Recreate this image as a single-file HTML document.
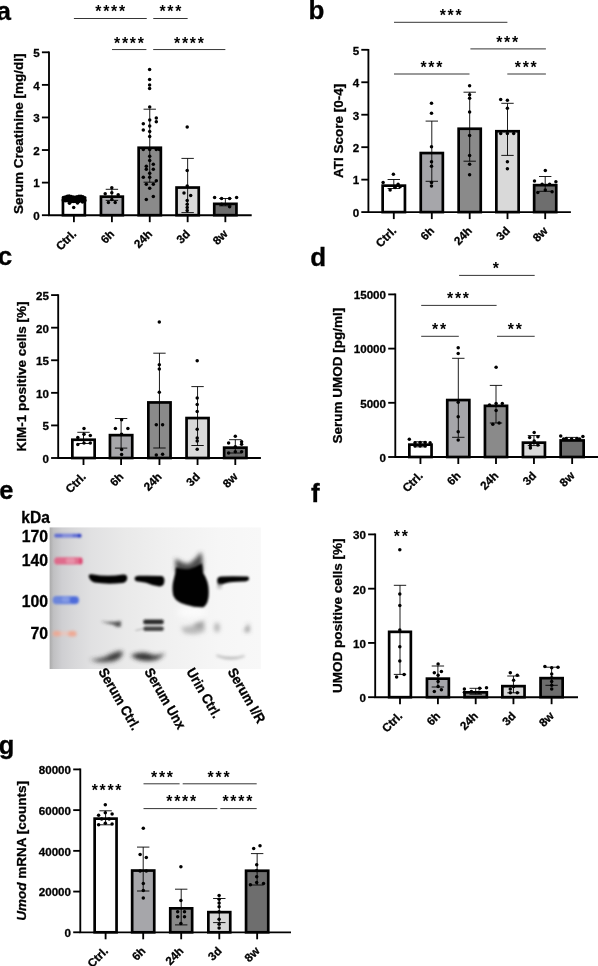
<!DOCTYPE html>
<html lang="en">
<head>
<meta charset="utf-8">
<title>Figure</title>
<style>
html,body{margin:0;padding:0;background:#fff;}
svg{display:block;}
text.st{stroke:none;}
text{font-family:'Liberation Sans', sans-serif;fill:#000;stroke:#000;stroke-width:0.3px;}
</style>
</head>
<body>
<svg width="598" height="966" viewBox="0 0 598 966">
<rect width="598" height="966" fill="#fff"/>
<g opacity="0.999">
<text x="-3.4" y="19.8" font-size="26" font-weight="bold">a</text>
<rect x="62.95" y="199.65" width="21.90" height="15.55" fill="#ffffff" stroke="#000" stroke-width="2.7"/>
<rect x="100.95" y="196.65" width="21.90" height="18.55" fill="#a6a6aa" stroke="#000" stroke-width="2.7"/>
<rect x="138.65" y="147.75" width="22.20" height="67.45" fill="#8a8a8a" stroke="#000" stroke-width="2.7"/>
<rect x="176.55" y="187.55" width="22.20" height="27.65" fill="#d9d9d9" stroke="#000" stroke-width="2.7"/>
<rect x="214.25" y="203.85" width="22.20" height="11.35" fill="#6e6e6e" stroke="#000" stroke-width="2.7"/>
<path d="M49.00 51.38V216.12M48.08 215.20H251.70" stroke="#000" stroke-width="1.85" fill="none"/>
<path d="M41.90 215.20H49.00" stroke="#000" stroke-width="1.85"/>
<text x="39.70" y="220.05" text-anchor="end" font-size="11.6" font-weight="bold">0</text>
<path d="M41.90 182.62H49.00" stroke="#000" stroke-width="1.85"/>
<text x="39.70" y="187.47" text-anchor="end" font-size="11.6" font-weight="bold">1</text>
<path d="M41.90 150.04H49.00" stroke="#000" stroke-width="1.85"/>
<text x="39.70" y="154.89" text-anchor="end" font-size="11.6" font-weight="bold">2</text>
<path d="M41.90 117.46H49.00" stroke="#000" stroke-width="1.85"/>
<text x="39.70" y="122.31" text-anchor="end" font-size="11.6" font-weight="bold">3</text>
<path d="M41.90 84.88H49.00" stroke="#000" stroke-width="1.85"/>
<text x="39.70" y="89.73" text-anchor="end" font-size="11.6" font-weight="bold">4</text>
<path d="M41.90 52.30H49.00" stroke="#000" stroke-width="1.85"/>
<text x="39.70" y="57.15" text-anchor="end" font-size="11.6" font-weight="bold">5</text>
<path d="M73.90 215.20V222.20" stroke="#000" stroke-width="1.85"/>
<text transform="translate(74.10 231.70) rotate(-45)" text-anchor="end" font-size="11.6" font-weight="bold" y="4.15">Ctrl.</text>
<path d="M111.90 215.20V222.20" stroke="#000" stroke-width="1.85"/>
<text transform="translate(112.10 231.70) rotate(-45)" text-anchor="end" font-size="11.6" font-weight="bold" y="4.15">6h</text>
<path d="M149.75 215.20V222.20" stroke="#000" stroke-width="1.85"/>
<text transform="translate(149.95 231.70) rotate(-45)" text-anchor="end" font-size="11.6" font-weight="bold" y="4.15">24h</text>
<path d="M187.65 215.20V222.20" stroke="#000" stroke-width="1.85"/>
<text transform="translate(187.85 231.70) rotate(-45)" text-anchor="end" font-size="11.6" font-weight="bold" y="4.15">3d</text>
<path d="M225.35 215.20V222.20" stroke="#000" stroke-width="1.85"/>
<text transform="translate(225.55 231.70) rotate(-45)" text-anchor="end" font-size="11.6" font-weight="bold" y="4.15">8w</text>
<path d="M73.90 197.60V200.20M67.70 197.60H80.10M67.70 200.20H80.10" stroke="#000" stroke-width="0.9" fill="none"/>
<path d="M111.90 189.30V200.40M105.70 189.30H118.10M105.70 200.40H118.10" stroke="#000" stroke-width="0.9" fill="none"/>
<path d="M149.75 109.20V182.20M143.55 109.20H155.95M143.55 182.20H155.95" stroke="#000" stroke-width="0.9" fill="none"/>
<path d="M187.65 158.40V212.60M181.45 158.40H193.85M181.45 212.60H193.85" stroke="#000" stroke-width="0.9" fill="none"/>
<path d="M225.35 198.50V205.80M219.15 198.50H231.55M219.15 205.80H231.55" stroke="#000" stroke-width="0.9" fill="none"/>
<g fill="#000"><circle cx="63.4" cy="197.6" r="1.75"/><circle cx="63.4" cy="199.8" r="1.75"/><circle cx="63.4" cy="200.8" r="1.75"/><circle cx="65.3" cy="197.0" r="1.75"/><circle cx="65.3" cy="199.2" r="1.75"/><circle cx="65.3" cy="200.8" r="1.75"/><circle cx="67.3" cy="196.3" r="1.75"/><circle cx="67.3" cy="198.5" r="1.75"/><circle cx="67.3" cy="200.8" r="1.75"/><circle cx="69.2" cy="196.0" r="1.75"/><circle cx="69.2" cy="198.2" r="1.75"/><circle cx="69.2" cy="200.8" r="1.75"/><circle cx="71.2" cy="196.6" r="1.75"/><circle cx="71.2" cy="198.8" r="1.75"/><circle cx="71.2" cy="201.4" r="1.75"/><circle cx="73.2" cy="197.0" r="1.75"/><circle cx="73.2" cy="199.2" r="1.75"/><circle cx="73.2" cy="201.4" r="1.75"/><circle cx="75.1" cy="197.2" r="1.75"/><circle cx="75.1" cy="199.4" r="1.75"/><circle cx="75.1" cy="201.4" r="1.75"/><circle cx="77.0" cy="196.8" r="1.75"/><circle cx="77.0" cy="199.0" r="1.75"/><circle cx="77.0" cy="201.4" r="1.75"/><circle cx="79.0" cy="196.2" r="1.75"/><circle cx="79.0" cy="198.4" r="1.75"/><circle cx="79.0" cy="201.4" r="1.75"/><circle cx="81.0" cy="196.2" r="1.75"/><circle cx="81.0" cy="198.4" r="1.75"/><circle cx="81.0" cy="200.8" r="1.75"/><circle cx="82.9" cy="196.8" r="1.75"/><circle cx="82.9" cy="199.0" r="1.75"/><circle cx="82.9" cy="200.8" r="1.75"/><circle cx="84.8" cy="197.8" r="1.75"/><circle cx="84.8" cy="200.0" r="1.75"/><circle cx="84.8" cy="200.8" r="1.75"/><circle cx="73.7" cy="207.4" r="1.75"/><circle cx="69.5" cy="203.2" r="1.75"/><circle cx="77.5" cy="203.0" r="1.75"/><circle cx="82.5" cy="202.0" r="1.75"/><circle cx="111.8" cy="187.7" r="1.75"/><circle cx="105.2" cy="193.8" r="1.75"/><circle cx="118.2" cy="194.8" r="1.75"/><circle cx="111.8" cy="192.7" r="1.75"/><circle cx="108.4" cy="202.4" r="1.75"/><circle cx="115.2" cy="202.4" r="1.75"/><circle cx="111.8" cy="199.4" r="1.75"/><circle cx="149.7" cy="107.1" r="1.75"/><circle cx="149.7" cy="120.1" r="1.75"/><circle cx="156.3" cy="118.1" r="1.75"/><circle cx="156.3" cy="121.7" r="1.75"/><circle cx="143.3" cy="123.7" r="1.75"/><circle cx="149.7" cy="126.1" r="1.75"/><circle cx="143.3" cy="130.1" r="1.75"/><circle cx="149.7" cy="131.5" r="1.75"/><circle cx="149.7" cy="136.6" r="1.75"/><circle cx="143.3" cy="149.6" r="1.75"/><circle cx="149.7" cy="149.6" r="1.75"/><circle cx="156.3" cy="149.6" r="1.75"/><circle cx="159.4" cy="149.6" r="1.75"/><circle cx="149.7" cy="156.2" r="1.75"/><circle cx="149.7" cy="160.6" r="1.75"/><circle cx="146.3" cy="166.3" r="1.75"/><circle cx="153.3" cy="164.3" r="1.75"/><circle cx="146.3" cy="169.3" r="1.75"/><circle cx="153.3" cy="169.3" r="1.75"/><circle cx="149.7" cy="173.3" r="1.75"/><circle cx="143.3" cy="177.3" r="1.75"/><circle cx="149.7" cy="177.3" r="1.75"/><circle cx="156.3" cy="180.7" r="1.75"/><circle cx="146.3" cy="184.3" r="1.75"/><circle cx="153.3" cy="184.3" r="1.75"/><circle cx="149.7" cy="188.3" r="1.75"/><circle cx="153.3" cy="196.4" r="1.75"/><circle cx="146.3" cy="199.4" r="1.75"/><circle cx="149.6" cy="69.6" r="1.75"/><circle cx="149.6" cy="79.4" r="1.75"/><circle cx="149.6" cy="85.1" r="1.75"/><circle cx="149.6" cy="88.4" r="1.75"/><circle cx="187.2" cy="127.0" r="1.75"/><circle cx="187.2" cy="170.4" r="1.75"/><circle cx="187.2" cy="186.0" r="1.75"/><circle cx="184.0" cy="193.0" r="1.75"/><circle cx="190.7" cy="195.5" r="1.75"/><circle cx="187.2" cy="200.5" r="1.75"/><circle cx="187.2" cy="204.3" r="1.75"/><circle cx="187.2" cy="207.5" r="1.75"/><circle cx="187.2" cy="210.6" r="1.75"/><circle cx="214.6" cy="197.5" r="1.75"/><circle cx="221.6" cy="198.5" r="1.75"/><circle cx="229.6" cy="198.5" r="1.75"/><circle cx="236.6" cy="197.5" r="1.75"/><circle cx="221.6" cy="204.3" r="1.75"/><circle cx="229.6" cy="206.8" r="1.75"/></g>
<text transform="translate(18.40 133.75) rotate(-90)" text-anchor="middle" font-size="13.5" font-weight="bold" y="4.83">Serum Creatinine [mg/dl]</text>
<path d="M73.90 18.50H146.75" stroke="#2a2a2a" stroke-width="0.95"/><text class="st" x="111.08" y="17.41" text-anchor="middle" font-size="15.8" font-weight="bold" letter-spacing="1.75">****</text>
<path d="M153.25 18.50H187.65" stroke="#2a2a2a" stroke-width="0.95"/><text class="st" x="171.32" y="17.41" text-anchor="middle" font-size="15.8" font-weight="bold" letter-spacing="1.75">***</text>
<path d="M112.00 49.55H146.40" stroke="#2a2a2a" stroke-width="0.95"/><text class="st" x="129.88" y="48.86" text-anchor="middle" font-size="15.8" font-weight="bold" letter-spacing="1.75">****</text>
<path d="M153.20 49.55H225.35" stroke="#2a2a2a" stroke-width="0.95"/><text class="st" x="189.88" y="48.86" text-anchor="middle" font-size="15.8" font-weight="bold" letter-spacing="1.75">****</text>
<text x="308.6" y="19.4" font-size="26" font-weight="bold">b</text>
<rect x="382.65" y="185.65" width="22.30" height="26.45" fill="#ffffff" stroke="#000" stroke-width="2.7"/>
<rect x="420.75" y="153.05" width="22.10" height="59.05" fill="#a6a6aa" stroke="#000" stroke-width="2.7"/>
<rect x="458.65" y="128.75" width="22.10" height="83.35" fill="#8a8a8a" stroke="#000" stroke-width="2.7"/>
<rect x="496.35" y="131.25" width="22.30" height="80.85" fill="#d9d9d9" stroke="#000" stroke-width="2.7"/>
<rect x="534.15" y="185.15" width="22.10" height="26.95" fill="#6e6e6e" stroke="#000" stroke-width="2.7"/>
<path d="M368.40 48.88V213.03M367.47 212.10H570.90" stroke="#000" stroke-width="1.85" fill="none"/>
<path d="M361.30 212.10H368.40" stroke="#000" stroke-width="1.85"/>
<text x="359.10" y="216.95" text-anchor="end" font-size="11.6" font-weight="bold">0</text>
<path d="M361.30 179.64H368.40" stroke="#000" stroke-width="1.85"/>
<text x="359.10" y="184.49" text-anchor="end" font-size="11.6" font-weight="bold">1</text>
<path d="M361.30 147.18H368.40" stroke="#000" stroke-width="1.85"/>
<text x="359.10" y="152.03" text-anchor="end" font-size="11.6" font-weight="bold">2</text>
<path d="M361.30 114.72H368.40" stroke="#000" stroke-width="1.85"/>
<text x="359.10" y="119.57" text-anchor="end" font-size="11.6" font-weight="bold">3</text>
<path d="M361.30 82.26H368.40" stroke="#000" stroke-width="1.85"/>
<text x="359.10" y="87.11" text-anchor="end" font-size="11.6" font-weight="bold">4</text>
<path d="M361.30 49.80H368.40" stroke="#000" stroke-width="1.85"/>
<text x="359.10" y="54.65" text-anchor="end" font-size="11.6" font-weight="bold">5</text>
<path d="M393.80 212.10V219.10" stroke="#000" stroke-width="1.85"/>
<text transform="translate(394.00 228.60) rotate(-45)" text-anchor="end" font-size="11.6" font-weight="bold" y="4.15">Ctrl.</text>
<path d="M431.80 212.10V219.10" stroke="#000" stroke-width="1.85"/>
<text transform="translate(432.00 228.60) rotate(-45)" text-anchor="end" font-size="11.6" font-weight="bold" y="4.15">6h</text>
<path d="M469.70 212.10V219.10" stroke="#000" stroke-width="1.85"/>
<text transform="translate(469.90 228.60) rotate(-45)" text-anchor="end" font-size="11.6" font-weight="bold" y="4.15">24h</text>
<path d="M507.50 212.10V219.10" stroke="#000" stroke-width="1.85"/>
<text transform="translate(507.70 228.60) rotate(-45)" text-anchor="end" font-size="11.6" font-weight="bold" y="4.15">3d</text>
<path d="M545.20 212.10V219.10" stroke="#000" stroke-width="1.85"/>
<text transform="translate(545.40 228.60) rotate(-45)" text-anchor="end" font-size="11.6" font-weight="bold" y="4.15">8w</text>
<path d="M393.80 179.50V188.50M387.60 179.50H400.00M387.60 188.50H400.00" stroke="#000" stroke-width="0.9" fill="none"/>
<path d="M431.80 121.10V181.30M425.60 121.10H438.00M425.60 181.30H438.00" stroke="#000" stroke-width="0.9" fill="none"/>
<path d="M469.70 92.20V161.20M463.50 92.20H475.90M463.50 161.20H475.90" stroke="#000" stroke-width="0.9" fill="none"/>
<path d="M507.50 103.30V155.40M501.30 103.30H513.70M501.30 155.40H513.70" stroke="#000" stroke-width="0.9" fill="none"/>
<path d="M545.20 176.50V191.30M539.00 176.50H551.40M539.00 191.30H551.40" stroke="#000" stroke-width="0.9" fill="none"/>
<g fill="#000"><circle cx="393.4" cy="174.3" r="1.75"/><circle cx="383.1" cy="182.5" r="1.75"/><circle cx="398.1" cy="184.3" r="1.75"/><circle cx="390.1" cy="190.1" r="1.75"/><circle cx="395.1" cy="187.5" r="1.75"/><circle cx="400.1" cy="186.8" r="1.75"/><circle cx="431.5" cy="103.3" r="1.75"/><circle cx="431.5" cy="113.3" r="1.75"/><circle cx="431.5" cy="146.7" r="1.75"/><circle cx="431.5" cy="161.7" r="1.75"/><circle cx="431.5" cy="166.2" r="1.75"/><circle cx="431.5" cy="182.5" r="1.75"/><circle cx="431.5" cy="186.0" r="1.75"/><circle cx="469.6" cy="85.7" r="1.75"/><circle cx="469.6" cy="94.7" r="1.75"/><circle cx="469.6" cy="98.3" r="1.75"/><circle cx="469.6" cy="112.0" r="1.75"/><circle cx="469.6" cy="135.4" r="1.75"/><circle cx="469.6" cy="155.4" r="1.75"/><circle cx="469.6" cy="164.2" r="1.75"/><circle cx="469.6" cy="174.8" r="1.75"/><circle cx="500.7" cy="99.5" r="1.75"/><circle cx="507.4" cy="100.3" r="1.75"/><circle cx="507.4" cy="108.3" r="1.75"/><circle cx="500.7" cy="133.4" r="1.75"/><circle cx="507.4" cy="133.4" r="1.75"/><circle cx="513.7" cy="133.4" r="1.75"/><circle cx="507.4" cy="161.7" r="1.75"/><circle cx="507.4" cy="168.7" r="1.75"/><circle cx="545.3" cy="170.5" r="1.75"/><circle cx="534.5" cy="181.0" r="1.75"/><circle cx="555.9" cy="181.8" r="1.75"/><circle cx="542.1" cy="184.3" r="1.75"/><circle cx="549.6" cy="184.3" r="1.75"/><circle cx="545.3" cy="190.1" r="1.75"/><circle cx="537.8" cy="192.6" r="1.75"/><circle cx="552.1" cy="191.8" r="1.75"/></g>
<text transform="translate(337.90 130.95) rotate(-90)" text-anchor="middle" font-size="13.5" font-weight="bold" y="4.83">ATI Score [0-4]</text>
<path d="M394.00 22.30H507.40" stroke="#2a2a2a" stroke-width="0.95"/><text class="st" x="451.57" y="21.31" text-anchor="middle" font-size="15.8" font-weight="bold" letter-spacing="1.75">***</text>
<path d="M470.40 48.90H545.90" stroke="#2a2a2a" stroke-width="0.95"/><text class="st" x="507.98" y="48.11" text-anchor="middle" font-size="15.8" font-weight="bold" letter-spacing="1.75">***</text>
<path d="M394.00 74.00H469.50" stroke="#2a2a2a" stroke-width="0.95"/><text class="st" x="432.27" y="73.21" text-anchor="middle" font-size="15.8" font-weight="bold" letter-spacing="1.75">***</text>
<path d="M507.30 74.00H545.90" stroke="#2a2a2a" stroke-width="0.95"/><text class="st" x="526.67" y="73.21" text-anchor="middle" font-size="15.8" font-weight="bold" letter-spacing="1.75">***</text>
<text x="-2.3" y="264.7" font-size="26" font-weight="bold">c</text>
<rect x="72.35" y="439.75" width="22.30" height="18.25" fill="#ffffff" stroke="#000" stroke-width="2.7"/>
<rect x="109.95" y="435.15" width="22.30" height="22.85" fill="#a6a6aa" stroke="#000" stroke-width="2.7"/>
<rect x="148.35" y="402.45" width="22.20" height="55.55" fill="#8a8a8a" stroke="#000" stroke-width="2.7"/>
<rect x="186.55" y="418.05" width="22.00" height="39.95" fill="#d9d9d9" stroke="#000" stroke-width="2.7"/>
<rect x="224.15" y="447.65" width="22.30" height="10.35" fill="#6e6e6e" stroke="#000" stroke-width="2.7"/>
<path d="M58.20 294.18V458.93M57.28 458.00H260.90" stroke="#000" stroke-width="1.85" fill="none"/>
<path d="M51.10 458.00H58.20" stroke="#000" stroke-width="1.85"/>
<text x="48.90" y="462.85" text-anchor="end" font-size="11.6" font-weight="bold">0</text>
<path d="M51.10 425.42H58.20" stroke="#000" stroke-width="1.85"/>
<text x="48.90" y="430.27" text-anchor="end" font-size="11.6" font-weight="bold">5</text>
<path d="M51.10 392.84H58.20" stroke="#000" stroke-width="1.85"/>
<text x="48.90" y="397.69" text-anchor="end" font-size="11.6" font-weight="bold">10</text>
<path d="M51.10 360.26H58.20" stroke="#000" stroke-width="1.85"/>
<text x="48.90" y="365.11" text-anchor="end" font-size="11.6" font-weight="bold">15</text>
<path d="M51.10 327.68H58.20" stroke="#000" stroke-width="1.85"/>
<text x="48.90" y="332.53" text-anchor="end" font-size="11.6" font-weight="bold">20</text>
<path d="M51.10 295.10H58.20" stroke="#000" stroke-width="1.85"/>
<text x="48.90" y="299.95" text-anchor="end" font-size="11.6" font-weight="bold">25</text>
<path d="M83.50 458.00V465.00" stroke="#000" stroke-width="1.85"/>
<text transform="translate(83.70 474.50) rotate(-45)" text-anchor="end" font-size="11.6" font-weight="bold" y="4.15">Ctrl.</text>
<path d="M121.10 458.00V465.00" stroke="#000" stroke-width="1.85"/>
<text transform="translate(121.30 474.50) rotate(-45)" text-anchor="end" font-size="11.6" font-weight="bold" y="4.15">6h</text>
<path d="M159.45 458.00V465.00" stroke="#000" stroke-width="1.85"/>
<text transform="translate(159.65 474.50) rotate(-45)" text-anchor="end" font-size="11.6" font-weight="bold" y="4.15">24h</text>
<path d="M197.55 458.00V465.00" stroke="#000" stroke-width="1.85"/>
<text transform="translate(197.75 474.50) rotate(-45)" text-anchor="end" font-size="11.6" font-weight="bold" y="4.15">3d</text>
<path d="M235.30 458.00V465.00" stroke="#000" stroke-width="1.85"/>
<text transform="translate(235.50 474.50) rotate(-45)" text-anchor="end" font-size="11.6" font-weight="bold" y="4.15">8w</text>
<path d="M83.50 432.30V443.50M77.30 432.30H89.70M77.30 443.50H89.70" stroke="#000" stroke-width="0.9" fill="none"/>
<path d="M121.10 418.50V448.10M114.90 418.50H127.30M114.90 448.10H127.30" stroke="#000" stroke-width="0.9" fill="none"/>
<path d="M159.45 353.20V448.00M153.25 353.20H165.65M153.25 448.00H165.65" stroke="#000" stroke-width="0.9" fill="none"/>
<path d="M197.55 386.60V445.50M191.35 386.60H203.75M191.35 445.50H203.75" stroke="#000" stroke-width="0.9" fill="none"/>
<path d="M235.30 439.70V453.00M229.10 439.70H241.50M229.10 453.00H241.50" stroke="#000" stroke-width="0.9" fill="none"/>
<g fill="#000"><circle cx="84.0" cy="428.6" r="1.75"/><circle cx="77.8" cy="437.6" r="1.75"/><circle cx="90.3" cy="435.6" r="1.75"/><circle cx="84.0" cy="434.3" r="1.75"/><circle cx="77.8" cy="444.4" r="1.75"/><circle cx="84.0" cy="443.1" r="1.75"/><circle cx="90.3" cy="443.1" r="1.75"/><circle cx="121.6" cy="419.8" r="1.75"/><circle cx="115.4" cy="428.6" r="1.75"/><circle cx="127.9" cy="428.6" r="1.75"/><circle cx="121.6" cy="434.3" r="1.75"/><circle cx="121.6" cy="449.4" r="1.75"/><circle cx="121.6" cy="454.4" r="1.75"/><circle cx="159.3" cy="321.9" r="1.75"/><circle cx="159.3" cy="364.7" r="1.75"/><circle cx="159.3" cy="369.0" r="1.75"/><circle cx="159.3" cy="392.3" r="1.75"/><circle cx="156.3" cy="424.7" r="1.75"/><circle cx="162.6" cy="424.7" r="1.75"/><circle cx="156.3" cy="455.0" r="1.75"/><circle cx="162.6" cy="454.3" r="1.75"/><circle cx="197.2" cy="360.7" r="1.75"/><circle cx="197.2" cy="397.9" r="1.75"/><circle cx="197.2" cy="404.6" r="1.75"/><circle cx="197.2" cy="411.6" r="1.75"/><circle cx="197.2" cy="429.2" r="1.75"/><circle cx="197.2" cy="438.0" r="1.75"/><circle cx="197.2" cy="441.0" r="1.75"/><circle cx="197.2" cy="449.3" r="1.75"/><circle cx="235.3" cy="436.2" r="1.75"/><circle cx="228.6" cy="443.0" r="1.75"/><circle cx="241.6" cy="441.7" r="1.75"/><circle cx="235.3" cy="446.8" r="1.75"/><circle cx="241.6" cy="444.3" r="1.75"/><circle cx="228.6" cy="453.0" r="1.75"/><circle cx="235.3" cy="451.8" r="1.75"/><circle cx="241.6" cy="451.8" r="1.75"/></g>
<text transform="translate(20.90 376.55) rotate(-90)" text-anchor="middle" font-size="13.5" font-weight="bold" y="4.83">KIM-1 positive cells [%]</text>
<text x="310.2" y="266.1" font-size="26" font-weight="bold">d</text>
<rect x="409.35" y="444.65" width="22.20" height="12.35" fill="#ffffff" stroke="#000" stroke-width="2.7"/>
<rect x="447.25" y="400.05" width="22.10" height="56.95" fill="#a6a6aa" stroke="#000" stroke-width="2.7"/>
<rect x="484.95" y="405.85" width="22.10" height="51.15" fill="#8a8a8a" stroke="#000" stroke-width="2.7"/>
<rect x="522.95" y="442.65" width="22.00" height="14.35" fill="#d9d9d9" stroke="#000" stroke-width="2.7"/>
<rect x="560.65" y="440.45" width="23.00" height="16.55" fill="#6e6e6e" stroke="#000" stroke-width="2.7"/>
<path d="M395.30 293.47V457.93M394.38 457.00H598.00" stroke="#000" stroke-width="1.85" fill="none"/>
<path d="M388.20 457.00H395.30" stroke="#000" stroke-width="1.85"/>
<text x="386.00" y="461.85" text-anchor="end" font-size="11.6" font-weight="bold">0</text>
<path d="M388.20 402.80H395.30" stroke="#000" stroke-width="1.85"/>
<text x="386.00" y="407.65" text-anchor="end" font-size="11.6" font-weight="bold">5000</text>
<path d="M388.20 348.60H395.30" stroke="#000" stroke-width="1.85"/>
<text x="386.00" y="353.45" text-anchor="end" font-size="11.6" font-weight="bold">10000</text>
<path d="M388.20 294.40H395.30" stroke="#000" stroke-width="1.85"/>
<text x="386.00" y="299.25" text-anchor="end" font-size="11.6" font-weight="bold">15000</text>
<path d="M420.45 457.00V464.00" stroke="#000" stroke-width="1.85"/>
<text transform="translate(420.65 473.50) rotate(-45)" text-anchor="end" font-size="11.6" font-weight="bold" y="4.15">Ctrl.</text>
<path d="M458.30 457.00V464.00" stroke="#000" stroke-width="1.85"/>
<text transform="translate(458.50 473.50) rotate(-45)" text-anchor="end" font-size="11.6" font-weight="bold" y="4.15">6h</text>
<path d="M496.00 457.00V464.00" stroke="#000" stroke-width="1.85"/>
<text transform="translate(496.20 473.50) rotate(-45)" text-anchor="end" font-size="11.6" font-weight="bold" y="4.15">24h</text>
<path d="M533.95 457.00V464.00" stroke="#000" stroke-width="1.85"/>
<text transform="translate(534.15 473.50) rotate(-45)" text-anchor="end" font-size="11.6" font-weight="bold" y="4.15">3d</text>
<path d="M572.15 457.00V464.00" stroke="#000" stroke-width="1.85"/>
<text transform="translate(572.35 473.50) rotate(-45)" text-anchor="end" font-size="11.6" font-weight="bold" y="4.15">8w</text>
<path d="M420.45 441.80V446.80M414.25 441.80H426.65M414.25 446.80H426.65" stroke="#000" stroke-width="0.9" fill="none"/>
<path d="M458.30 358.30V437.30M452.10 358.30H464.50M452.10 437.30H464.50" stroke="#000" stroke-width="0.9" fill="none"/>
<path d="M496.00 385.40V423.00M489.80 385.40H502.20M489.80 423.00H502.20" stroke="#000" stroke-width="0.9" fill="none"/>
<path d="M533.95 435.60V445.60M527.75 435.60H540.15M527.75 445.60H540.15" stroke="#000" stroke-width="0.9" fill="none"/>
<path d="M572.15 437.40V440.20M565.95 437.40H578.35M565.95 440.20H578.35" stroke="#000" stroke-width="0.9" fill="none"/>
<g fill="#000"><circle cx="409.3" cy="439.3" r="1.75"/><circle cx="415.0" cy="442.8" r="1.75"/><circle cx="420.1" cy="442.6" r="1.75"/><circle cx="425.1" cy="442.6" r="1.75"/><circle cx="430.1" cy="442.8" r="1.75"/><circle cx="415.0" cy="446.1" r="1.75"/><circle cx="420.1" cy="446.1" r="1.75"/><circle cx="425.1" cy="446.1" r="1.75"/><circle cx="458.2" cy="347.8" r="1.75"/><circle cx="458.2" cy="353.6" r="1.75"/><circle cx="458.2" cy="402.2" r="1.75"/><circle cx="458.2" cy="416.8" r="1.75"/><circle cx="458.2" cy="431.8" r="1.75"/><circle cx="458.2" cy="440.1" r="1.75"/><circle cx="496.1" cy="367.3" r="1.75"/><circle cx="489.5" cy="405.0" r="1.75"/><circle cx="496.1" cy="403.5" r="1.75"/><circle cx="502.3" cy="403.5" r="1.75"/><circle cx="492.8" cy="424.3" r="1.75"/><circle cx="499.1" cy="423.0" r="1.75"/><circle cx="496.1" cy="410.5" r="1.75"/><circle cx="534.2" cy="432.6" r="1.75"/><circle cx="529.7" cy="437.6" r="1.75"/><circle cx="537.9" cy="436.8" r="1.75"/><circle cx="534.2" cy="441.1" r="1.75"/><circle cx="530.4" cy="445.6" r="1.75"/><circle cx="537.9" cy="445.1" r="1.75"/><circle cx="530.4" cy="448.1" r="1.75"/><circle cx="560.7" cy="436.0" r="1.75"/><circle cx="582.9" cy="436.5" r="1.75"/><circle cx="566.2" cy="438.5" r="1.75"/><circle cx="571.6" cy="438.9" r="1.75"/><circle cx="576.9" cy="438.5" r="1.75"/><circle cx="563.6" cy="438.9" r="1.75"/><circle cx="579.6" cy="438.9" r="1.75"/></g>
<text transform="translate(337.30 375.70) rotate(-90)" text-anchor="middle" font-size="13.5" font-weight="bold" y="4.83">Serum UMOD [pg/ml]</text>
<path d="M459.10 275.40H534.70" stroke="#2a2a2a" stroke-width="0.95"/><text class="st" x="496.68" y="274.41" text-anchor="middle" font-size="15.8" font-weight="bold" letter-spacing="1.75">*</text>
<path d="M421.20 305.40H496.60" stroke="#2a2a2a" stroke-width="0.95"/><text class="st" x="458.88" y="304.41" text-anchor="middle" font-size="15.8" font-weight="bold" letter-spacing="1.75">***</text>
<path d="M421.20 336.30H458.80" stroke="#2a2a2a" stroke-width="0.95"/><text class="st" x="439.98" y="335.31" text-anchor="middle" font-size="15.8" font-weight="bold" letter-spacing="1.75">**</text>
<path d="M497.00 336.30H534.70" stroke="#2a2a2a" stroke-width="0.95"/><text class="st" x="515.77" y="335.31" text-anchor="middle" font-size="15.8" font-weight="bold" letter-spacing="1.75">**</text>
<text x="311" y="501.8" font-size="26" font-weight="bold">f</text>
<rect x="389.15" y="631.85" width="21.70" height="65.35" fill="#ffffff" stroke="#000" stroke-width="2.7"/>
<rect x="426.95" y="678.65" width="21.90" height="18.55" fill="#a6a6aa" stroke="#000" stroke-width="2.7"/>
<rect x="464.55" y="692.35" width="22.30" height="4.85" fill="#8a8a8a" stroke="#000" stroke-width="2.7"/>
<rect x="502.35" y="686.15" width="22.20" height="11.05" fill="#d9d9d9" stroke="#000" stroke-width="2.7"/>
<rect x="540.55" y="678.15" width="22.10" height="19.05" fill="#6e6e6e" stroke="#000" stroke-width="2.7"/>
<path d="M375.20 533.48V698.12M374.27 697.20H578.00" stroke="#000" stroke-width="1.85" fill="none"/>
<path d="M368.10 697.20H375.20" stroke="#000" stroke-width="1.85"/>
<text x="365.90" y="702.05" text-anchor="end" font-size="11.6" font-weight="bold">0</text>
<path d="M368.10 642.93H375.20" stroke="#000" stroke-width="1.85"/>
<text x="365.90" y="647.79" text-anchor="end" font-size="11.6" font-weight="bold">10</text>
<path d="M368.10 588.67H375.20" stroke="#000" stroke-width="1.85"/>
<text x="365.90" y="593.52" text-anchor="end" font-size="11.6" font-weight="bold">20</text>
<path d="M368.10 534.40H375.20" stroke="#000" stroke-width="1.85"/>
<text x="365.90" y="539.25" text-anchor="end" font-size="11.6" font-weight="bold">30</text>
<path d="M400.00 697.20V704.20" stroke="#000" stroke-width="1.85"/>
<text transform="translate(400.20 713.70) rotate(-45)" text-anchor="end" font-size="11.6" font-weight="bold" y="4.15">Ctrl.</text>
<path d="M437.90 697.20V704.20" stroke="#000" stroke-width="1.85"/>
<text transform="translate(438.10 713.70) rotate(-45)" text-anchor="end" font-size="11.6" font-weight="bold" y="4.15">6h</text>
<path d="M475.70 697.20V704.20" stroke="#000" stroke-width="1.85"/>
<text transform="translate(475.90 713.70) rotate(-45)" text-anchor="end" font-size="11.6" font-weight="bold" y="4.15">24h</text>
<path d="M513.45 697.20V704.20" stroke="#000" stroke-width="1.85"/>
<text transform="translate(513.65 713.70) rotate(-45)" text-anchor="end" font-size="11.6" font-weight="bold" y="4.15">3d</text>
<path d="M551.60 697.20V704.20" stroke="#000" stroke-width="1.85"/>
<text transform="translate(551.80 713.70) rotate(-45)" text-anchor="end" font-size="11.6" font-weight="bold" y="4.15">8w</text>
<path d="M400.00 585.30V674.40M393.80 585.30H406.20M393.80 674.40H406.20" stroke="#000" stroke-width="0.9" fill="none"/>
<path d="M437.90 666.00V687.00M431.70 666.00H444.10M431.70 687.00H444.10" stroke="#000" stroke-width="0.9" fill="none"/>
<path d="M475.70 688.30V694.20M469.50 688.30H481.90M469.50 694.20H481.90" stroke="#000" stroke-width="0.9" fill="none"/>
<path d="M513.45 676.00V692.80M507.25 676.00H519.65M507.25 692.80H519.65" stroke="#000" stroke-width="0.9" fill="none"/>
<path d="M551.60 667.20V685.30M545.40 667.20H557.80M545.40 685.30H557.80" stroke="#000" stroke-width="0.9" fill="none"/>
<g fill="#000"><circle cx="399.8" cy="549.7" r="1.75"/><circle cx="399.8" cy="594.1" r="1.75"/><circle cx="399.8" cy="605.4" r="1.75"/><circle cx="399.8" cy="630.0" r="1.75"/><circle cx="399.8" cy="646.8" r="1.75"/><circle cx="399.8" cy="661.1" r="1.75"/><circle cx="396.6" cy="676.9" r="1.75"/><circle cx="404.1" cy="674.4" r="1.75"/><circle cx="438.1" cy="664.0" r="1.75"/><circle cx="434.3" cy="672.7" r="1.75"/><circle cx="441.4" cy="671.5" r="1.75"/><circle cx="438.1" cy="675.2" r="1.75"/><circle cx="438.1" cy="681.5" r="1.75"/><circle cx="434.3" cy="691.5" r="1.75"/><circle cx="441.4" cy="689.8" r="1.75"/><circle cx="438.1" cy="686.5" r="1.75"/><circle cx="464.4" cy="689.0" r="1.75"/><circle cx="479.7" cy="688.3" r="1.75"/><circle cx="486.5" cy="687.8" r="1.75"/><circle cx="471.4" cy="691.5" r="1.75"/><circle cx="479.0" cy="692.3" r="1.75"/><circle cx="464.4" cy="692.3" r="1.75"/><circle cx="510.3" cy="672.7" r="1.75"/><circle cx="517.3" cy="675.2" r="1.75"/><circle cx="513.6" cy="680.3" r="1.75"/><circle cx="513.6" cy="686.5" r="1.75"/><circle cx="510.3" cy="692.8" r="1.75"/><circle cx="517.3" cy="692.8" r="1.75"/><circle cx="510.3" cy="689.0" r="1.75"/><circle cx="544.9" cy="666.5" r="1.75"/><circle cx="551.7" cy="667.7" r="1.75"/><circle cx="558.0" cy="667.2" r="1.75"/><circle cx="551.7" cy="674.0" r="1.75"/><circle cx="551.7" cy="677.8" r="1.75"/><circle cx="551.7" cy="681.5" r="1.75"/><circle cx="551.7" cy="685.3" r="1.75"/><circle cx="551.7" cy="689.0" r="1.75"/></g>
<text transform="translate(336.80 615.80) rotate(-90)" text-anchor="middle" font-size="13.5" font-weight="bold" y="4.83">UMOD positive cells [%]</text>
<text class="st" x="401.68" y="541.81" text-anchor="middle" font-size="15.8" font-weight="bold" letter-spacing="1.75">**</text>
<text x="-1.2" y="754.2" font-size="25.5" font-weight="bold">g</text>
<rect x="94.65" y="818.65" width="21.90" height="113.65" fill="#ffffff" stroke="#000" stroke-width="2.7"/>
<rect x="132.15" y="870.55" width="22.10" height="61.75" fill="#a6a6aa" stroke="#000" stroke-width="2.7"/>
<rect x="170.25" y="908.35" width="21.90" height="23.95" fill="#8a8a8a" stroke="#000" stroke-width="2.7"/>
<rect x="208.35" y="912.15" width="21.90" height="20.15" fill="#d9d9d9" stroke="#000" stroke-width="2.7"/>
<rect x="246.05" y="870.75" width="22.20" height="61.55" fill="#6e6e6e" stroke="#000" stroke-width="2.7"/>
<path d="M80.30 768.48V933.22M79.38 932.30H291.00" stroke="#000" stroke-width="1.85" fill="none"/>
<path d="M73.20 932.30H80.30" stroke="#000" stroke-width="1.85"/>
<text x="71.00" y="937.15" text-anchor="end" font-size="11.6" font-weight="bold">0</text>
<path d="M73.20 891.57H80.30" stroke="#000" stroke-width="1.85"/>
<text x="71.00" y="896.43" text-anchor="end" font-size="11.6" font-weight="bold">20000</text>
<path d="M73.20 850.85H80.30" stroke="#000" stroke-width="1.85"/>
<text x="71.00" y="855.70" text-anchor="end" font-size="11.6" font-weight="bold">40000</text>
<path d="M73.20 810.12H80.30" stroke="#000" stroke-width="1.85"/>
<text x="71.00" y="814.98" text-anchor="end" font-size="11.6" font-weight="bold">60000</text>
<path d="M73.20 769.40H80.30" stroke="#000" stroke-width="1.85"/>
<text x="71.00" y="774.25" text-anchor="end" font-size="11.6" font-weight="bold">80000</text>
<path d="M105.60 932.30V939.30" stroke="#000" stroke-width="1.85"/>
<text transform="translate(105.80 948.80) rotate(-45)" text-anchor="end" font-size="11.6" font-weight="bold" y="4.15">Ctrl.</text>
<path d="M143.20 932.30V939.30" stroke="#000" stroke-width="1.85"/>
<text transform="translate(143.40 948.80) rotate(-45)" text-anchor="end" font-size="11.6" font-weight="bold" y="4.15">6h</text>
<path d="M181.20 932.30V939.30" stroke="#000" stroke-width="1.85"/>
<text transform="translate(181.40 948.80) rotate(-45)" text-anchor="end" font-size="11.6" font-weight="bold" y="4.15">24h</text>
<path d="M219.30 932.30V939.30" stroke="#000" stroke-width="1.85"/>
<text transform="translate(219.50 948.80) rotate(-45)" text-anchor="end" font-size="11.6" font-weight="bold" y="4.15">3d</text>
<path d="M257.15 932.30V939.30" stroke="#000" stroke-width="1.85"/>
<text transform="translate(257.35 948.80) rotate(-45)" text-anchor="end" font-size="11.6" font-weight="bold" y="4.15">8w</text>
<path d="M105.60 810.80V824.80M99.40 810.80H111.80M99.40 824.80H111.80" stroke="#000" stroke-width="0.9" fill="none"/>
<path d="M143.20 847.10V891.00M137.00 847.10H149.40M137.00 891.00H149.40" stroke="#000" stroke-width="0.9" fill="none"/>
<path d="M181.20 889.20V924.90M175.00 889.20H187.40M175.00 924.90H187.40" stroke="#000" stroke-width="0.9" fill="none"/>
<path d="M219.30 898.50V922.60M213.10 898.50H225.50M213.10 922.60H225.50" stroke="#000" stroke-width="0.9" fill="none"/>
<path d="M257.15 853.60V885.00M250.95 853.60H263.35M250.95 885.00H263.35" stroke="#000" stroke-width="0.9" fill="none"/>
<g fill="#000"><circle cx="105.3" cy="804.7" r="1.75"/><circle cx="98.6" cy="815.3" r="1.75"/><circle cx="112.1" cy="814.0" r="1.75"/><circle cx="105.3" cy="812.8" r="1.75"/><circle cx="101.6" cy="819.0" r="1.75"/><circle cx="109.1" cy="819.0" r="1.75"/><circle cx="98.6" cy="824.8" r="1.75"/><circle cx="105.3" cy="823.3" r="1.75"/><circle cx="112.1" cy="824.1" r="1.75"/><circle cx="143.3" cy="828.3" r="1.75"/><circle cx="140.1" cy="854.6" r="1.75"/><circle cx="146.3" cy="857.4" r="1.75"/><circle cx="140.1" cy="870.9" r="1.75"/><circle cx="146.3" cy="870.9" r="1.75"/><circle cx="143.3" cy="883.5" r="1.75"/><circle cx="143.3" cy="890.5" r="1.75"/><circle cx="143.3" cy="898.0" r="1.75"/><circle cx="180.9" cy="866.7" r="1.75"/><circle cx="180.9" cy="900.5" r="1.75"/><circle cx="177.7" cy="911.8" r="1.75"/><circle cx="184.5" cy="911.8" r="1.75"/><circle cx="177.7" cy="916.8" r="1.75"/><circle cx="184.5" cy="916.8" r="1.75"/><circle cx="180.9" cy="923.6" r="1.75"/><circle cx="219.1" cy="895.5" r="1.75"/><circle cx="219.1" cy="899.3" r="1.75"/><circle cx="219.1" cy="903.0" r="1.75"/><circle cx="219.1" cy="906.8" r="1.75"/><circle cx="219.1" cy="911.8" r="1.75"/><circle cx="219.1" cy="919.3" r="1.75"/><circle cx="219.1" cy="924.3" r="1.75"/><circle cx="219.1" cy="928.1" r="1.75"/><circle cx="253.7" cy="848.4" r="1.75"/><circle cx="260.0" cy="845.8" r="1.75"/><circle cx="256.7" cy="864.7" r="1.75"/><circle cx="256.7" cy="870.4" r="1.75"/><circle cx="256.7" cy="876.7" r="1.75"/><circle cx="250.4" cy="884.7" r="1.75"/><circle cx="256.7" cy="882.5" r="1.75"/><circle cx="263.5" cy="883.5" r="1.75"/></g>
<text transform="translate(21.20 850.85) rotate(-90)" text-anchor="middle" font-size="13.5" font-weight="bold" y="4.83"><tspan font-style="italic">Umod</tspan> mRNA [counts]</text>
<text class="st" x="107.47" y="795.51" text-anchor="middle" font-size="15.8" font-weight="bold" letter-spacing="1.75">****</text>
<path d="M143.50 783.80H179.60" stroke="#2a2a2a" stroke-width="0.95"/><text class="st" x="162.88" y="782.61" text-anchor="middle" font-size="15.8" font-weight="bold" letter-spacing="1.75">***</text>
<path d="M182.70 783.80H256.70" stroke="#2a2a2a" stroke-width="0.95"/><text class="st" x="219.47" y="782.61" text-anchor="middle" font-size="15.8" font-weight="bold" letter-spacing="1.75">***</text>
<path d="M143.50 808.60H217.30" stroke="#2a2a2a" stroke-width="0.95"/><text class="st" x="182.07" y="807.21" text-anchor="middle" font-size="15.8" font-weight="bold" letter-spacing="1.75">****</text>
<path d="M220.30 808.60H256.70" stroke="#2a2a2a" stroke-width="0.95"/><text class="st" x="238.28" y="807.21" text-anchor="middle" font-size="15.8" font-weight="bold" letter-spacing="1.75">****</text>
<defs>
<linearGradient id="blotbg" x1="49.4" x2="260.9" y1="0" y2="0" gradientUnits="userSpaceOnUse">
<stop offset="0" stop-color="#a9a9a9"/>
<stop offset="0.02" stop-color="#c0c0c2"/>
<stop offset="0.06" stop-color="#cfcfd2"/>
<stop offset="0.12" stop-color="#d8d8da"/>
<stop offset="0.2" stop-color="#e1e1e2"/>
<stop offset="0.35" stop-color="#e9e9e9"/>
<stop offset="0.55" stop-color="#f0f0f0"/>
<stop offset="0.8" stop-color="#f6f6f6"/>
<stop offset="1" stop-color="#f8f8f8"/>
</linearGradient>
<linearGradient id="blotshade" x1="0" x2="0" y1="527" y2="669" gradientUnits="userSpaceOnUse">
<stop offset="0" stop-color="#fff" stop-opacity="0.25"/>
<stop offset="0.5" stop-color="#fff" stop-opacity="0"/>
<stop offset="1" stop-color="#000" stop-opacity="0.12"/>
</linearGradient>
<linearGradient id="shadeL" x1="49.4" x2="100" y1="0" y2="0" gradientUnits="userSpaceOnUse">
<stop offset="0" stop-color="#000" stop-opacity="1"/>
<stop offset="1" stop-color="#000" stop-opacity="0"/>
</linearGradient>
<mask id="mL"><rect x="49" y="527" width="60" height="142" fill="url(#shadeL)"/></mask>
<filter id="bl05" x="-20%" y="-50%" width="140%" height="200%"><feGaussianBlur stdDeviation="0.95"/></filter>
<filter id="bl1" x="-20%" y="-50%" width="140%" height="200%"><feGaussianBlur stdDeviation="1"/></filter>
<filter id="bl12" x="-30%" y="-60%" width="160%" height="220%"><feGaussianBlur stdDeviation="1.25"/></filter>
<filter id="bl15" x="-30%" y="-60%" width="160%" height="220%"><feGaussianBlur stdDeviation="1.5"/></filter>
<filter id="bl2" x="-40%" y="-80%" width="180%" height="260%"><feGaussianBlur stdDeviation="2.2"/></filter>
<filter id="bl3" x="-50%" y="-100%" width="200%" height="300%"><feGaussianBlur stdDeviation="3.2"/></filter>
<clipPath id="blotclip"><rect x="49.4" y="527.2" width="211.5" height="141.9"/></clipPath>
</defs>
<g id="blot">
<text x="21.3" y="523.1" font-size="15.6" font-weight="bold">kDa</text>
<text x="48.1" y="541.6" font-size="15.8" font-weight="bold" text-anchor="end">170</text>
<text x="48.1" y="566.4" font-size="15.8" font-weight="bold" text-anchor="end">140</text>
<text x="48.1" y="607.1" font-size="15.8" font-weight="bold" text-anchor="end">100</text>
<text x="48.1" y="639.1" font-size="15.8" font-weight="bold" text-anchor="end">70</text>
<g clip-path="url(#blotclip)">
<rect x="49.4" y="527.2" width="211.5" height="141.9" fill="url(#blotbg)"/>
<g mask="url(#mL)"><rect x="49.4" y="527.2" width="60" height="141.9" fill="url(#blotshade)"/></g>
<!-- ladder -->
<g filter="url(#bl1)">
<rect x="54.2" y="533.7" width="27" height="3.8" rx="1.8" fill="#4a5bd2" opacity="0.85"/>
<rect x="62" y="534.2" width="11" height="2.8" rx="1.4" fill="#8d97e0" opacity="0.8"/>
<rect x="77.5" y="533.8" width="4" height="3.8" rx="1.9" fill="#2c3cc0"/>
<rect x="54.2" y="557.2" width="28" height="7.4" rx="3.4" fill="#e4547c" opacity="0.8"/>
<rect x="66" y="558.2" width="9" height="5" rx="2.5" fill="#eb9ab0" opacity="0.8"/>
<rect x="79" y="557.6" width="3.6" height="7" rx="1.8" fill="#dc3f6a" opacity="0.8"/>
<rect x="52.6" y="596" width="26.6" height="8.2" rx="4" fill="#5675e0" opacity="0.8"/>
<rect x="62" y="596.4" width="7" height="5.5" rx="2.7" fill="#8ea2ea" opacity="0.7"/>
<rect x="70" y="597" width="8" height="6.4" rx="3.2" fill="#4563d8" opacity="0.8"/>
</g>
<g filter="url(#bl15)">
<rect x="52.6" y="631" width="8.5" height="5.2" rx="2.5" fill="#f2a48c" opacity="0.85"/>
<rect x="60" y="631.6" width="9" height="4" rx="2" fill="#f4c1b2" opacity="0.7"/>
<rect x="68" y="631" width="8.5" height="5.4" rx="2.5" fill="#f2a48c" opacity="0.9"/>
</g>
<!-- faint lower smears -->
<g filter="url(#bl2)">
<path d="M89.5 659.5 Q103 659 112 653.5 Q119 650 123 651.5 Q122.5 658.5 113 661.5 Q100 663.8 89.5 659.5Z" fill="#333" opacity="0.85"/><ellipse cx="114" cy="656.5" rx="7" ry="2.6" fill="#222" opacity="0.5"/>
<path d="M130.5 655.5 Q140 650.5 150 654 Q158 656.5 165 653 Q161 660 150 661 Q138 661.5 130.5 655.5Z" fill="#2e2e2e" opacity="0.9"/>
<ellipse cx="143" cy="656.8" rx="9" ry="2.4" fill="#222" opacity="0.6"/>
<path d="M181 627 Q193 627 204 619.5 L205 631 Q197 636 184 633Z" fill="#777" opacity="0.45"/><ellipse cx="199" cy="625" rx="4.5" ry="3.2" fill="#666" opacity="0.35"/>
<ellipse cx="217" cy="627.5" rx="2.6" ry="4.8" fill="#777" opacity="0.55"/>
<path d="M244 631.5 L248.8 623 L249.5 632Z" fill="#555" opacity="0.7"/>
</g>
<g filter="url(#bl15)">
<path d="M216.5 655.5 Q230 660 244.5 656 Q230 661.5 216.5 655.5Z" fill="#777" stroke="#888" stroke-width="1.6" opacity="0.6"/>
<path d="M100.5 621.5 Q110 622.5 121 621 L121 626.5 Q117 628 113.5 624.8 Q107 623.2 100.5 621.5Z" fill="#333" opacity="0.8"/>
</g>
<g filter="url(#bl12)">
<rect x="143.2" y="619.4" width="20.6" height="4.9" rx="2.3" fill="#1e1e1e" opacity="0.95"/>
<rect x="143.2" y="626.4" width="20.6" height="4.6" rx="2.2" fill="#303030" opacity="0.9"/>
<path d="M135.5 630.5 L144 628.6" stroke="#888" stroke-width="1.2" opacity="0.6"/>
</g>
<!-- main bands -->
<g filter="url(#bl05)" fill="#000">
<path d="M88.6 575.8 Q89 573.6 92 574.3 Q107 577.2 123 574.6 Q127.6 574.3 127.2 578.6 Q126.8 582.6 122.5 583 Q107 584.6 94.5 582.6 Q89.4 581 88.6 575.8Z"/>
<path d="M134.6 578.4 Q134.8 575.8 139 575.8 Q152 575.6 161.5 576 Q164.8 576.6 164.4 581.5 Q163.8 586.6 159.5 586.4 Q152 585.6 146 582.8 Q141 581.6 138 581.4 Q134.4 581 134.6 578.4Z"/>
<path d="M217.2 579.4 Q217.6 576.4 222 576.5 Q235 576.2 247 576.6 Q249.8 577 248.8 579.8 Q247.6 581.6 243 581.6 Q232 581.8 224.5 583.4 Q220.5 585.4 218.2 584.6 Q216.8 582.4 217.2 579.4Z"/>
</g>
<ellipse cx="219.5" cy="586" rx="2.6" ry="3" fill="#888" opacity="0.5" filter="url(#bl15)"/>
<ellipse cx="192" cy="612" rx="15" ry="6" fill="#fff" opacity="0.7" filter="url(#bl3)"/>
<!-- urine blob -->
<g filter="url(#bl2)">
<path d="M175.2 558.5 L178.5 560.2 Q184 564 189.5 563.6 Q196 559 200.8 552 Q202.6 554 203 572 L175.6 572Z" fill="#444" opacity="0.95"/>
</g>
<g filter="url(#bl1)">
<path d="M176 567.5 Q182 569.4 189.5 568.8 Q196 567.2 201.8 563.5 Q202.4 568 203.2 573 Q208.8 581 208.8 592 Q209 603.5 203.5 607.2 Q196 607.8 186 604.8 Q176 602.4 173.2 595.5 Q171.4 587 173.8 579 Q175.6 573 176 567.5Z" fill="#000"/>
</g>
</g>
<text transform="translate(98.1 671.5) rotate(60)" font-size="14" font-weight="bold" textLength="69" lengthAdjust="spacingAndGlyphs">Serum Ctrl.</text>
<text transform="translate(144.1 671.5) rotate(60)" font-size="14" font-weight="bold" textLength="67.8" lengthAdjust="spacingAndGlyphs">Serum Unx</text>
<text transform="translate(186.1 671.5) rotate(60)" font-size="14" font-weight="bold" textLength="55.2" lengthAdjust="spacingAndGlyphs">Urin Ctrl.</text>
<text transform="translate(227.2 671.5) rotate(60)" font-size="14" font-weight="bold" textLength="61" lengthAdjust="spacingAndGlyphs">Serum I/R</text>
</g>

<text x="-0.8" y="499.2" font-size="25.5" font-weight="bold">e</text>
</g>
</svg>
</body>
</html>
